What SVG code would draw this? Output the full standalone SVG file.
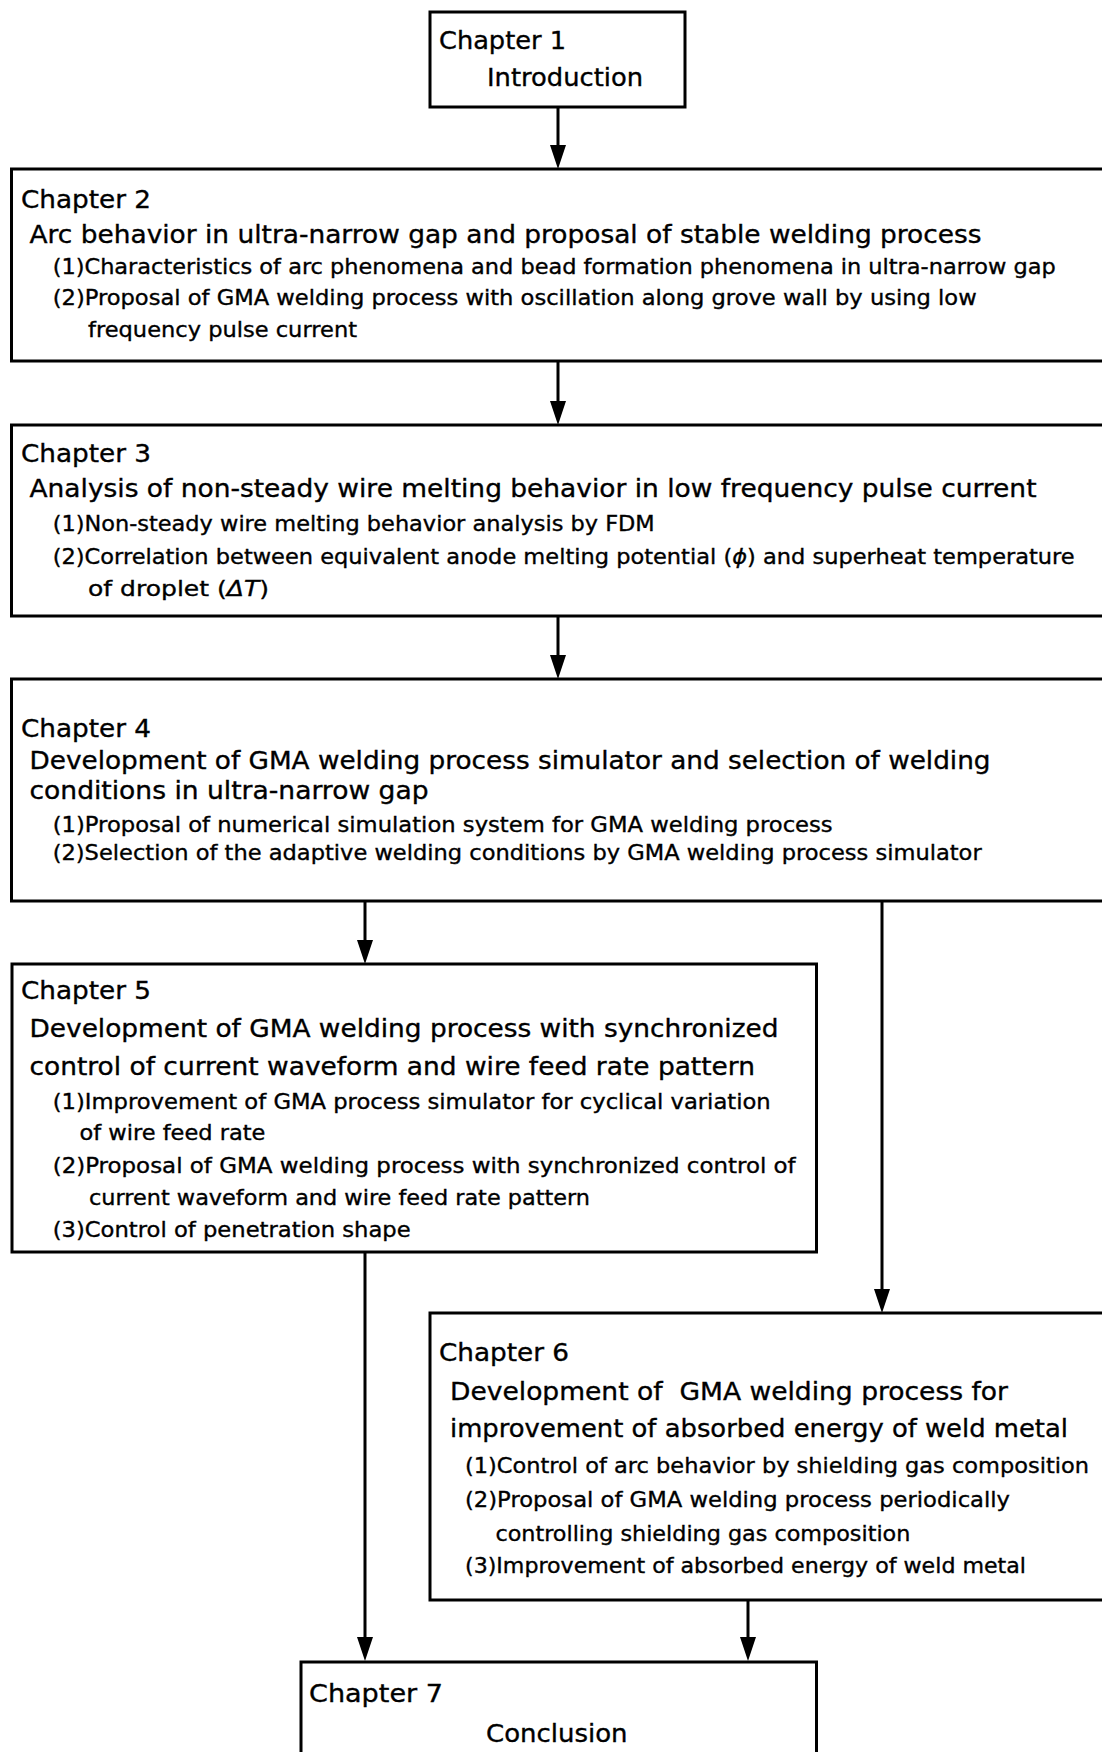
<svg xmlns="http://www.w3.org/2000/svg" width="1102" height="1752" viewBox="0 0 1102 1752">
<style>
.box{fill:#fff;stroke:#000;stroke-width:3}
text{font-family:"DejaVu Sans","Liberation Sans",sans-serif;fill:#000;stroke:#000;stroke-width:0.35}
.ch{font-size:24px}
.tt{font-size:24px}
.it{font-size:21px}
.conn line{stroke:#000;stroke-width:3}
</style>
<defs>
<marker id="arr" markerUnits="userSpaceOnUse" markerWidth="24" markerHeight="16" refX="14" refY="8" orient="auto">
<path d="M0,0 L24,8 L0,16 Z" fill="#000"/>
</marker>
</defs>
<rect width="1102" height="1752" fill="#fff"/>

<g id="connectors" class="conn">
<line x1="558" y1="107" x2="558" y2="159" marker-end="url(#arr)"/>
<line x1="558" y1="361" x2="558" y2="415" marker-end="url(#arr)"/>
<line x1="558" y1="616" x2="558" y2="669" marker-end="url(#arr)"/>
<line x1="365" y1="901" x2="365" y2="954" marker-end="url(#arr)"/>
<line x1="882" y1="901" x2="882" y2="1303" marker-end="url(#arr)"/>
<line x1="365" y1="1252" x2="365" y2="1651" marker-end="url(#arr)"/>
<line x1="748" y1="1600" x2="748" y2="1651" marker-end="url(#arr)"/>
</g>

<g id="ch1">
<rect class="box" x="430" y="12" width="255" height="95"/>
<text class="ch" x="439" y="49" textLength="127" lengthAdjust="spacingAndGlyphs">Chapter 1</text>
<text class="ch" x="487" y="86" textLength="156" lengthAdjust="spacingAndGlyphs">Introduction</text>
</g>

<g id="ch2">
<rect class="box" x="11.5" y="169" width="1110" height="192"/>
<text class="ch" x="21" y="208" textLength="130" lengthAdjust="spacingAndGlyphs">Chapter 2</text>
<text class="tt" x="29.5" y="243" textLength="952" lengthAdjust="spacingAndGlyphs">Arc behavior in ultra-narrow gap and proposal of stable welding process</text>
<text class="it" x="52.7" y="274" textLength="1003" lengthAdjust="spacingAndGlyphs">(1)Characteristics of arc phenomena and bead formation phenomena in ultra-narrow gap</text>
<text class="it" x="52.7" y="305" textLength="924" lengthAdjust="spacingAndGlyphs">(2)Proposal of GMA welding process with oscillation along grove wall by using low</text>
<text class="it" x="88" y="337" textLength="269" lengthAdjust="spacingAndGlyphs">frequency pulse current</text>
</g>

<g id="ch3">
<rect class="box" x="11.5" y="425" width="1110" height="191"/>
<text class="ch" x="21" y="462" textLength="130" lengthAdjust="spacingAndGlyphs">Chapter 3</text>
<text class="tt" x="29.5" y="497" textLength="1007" lengthAdjust="spacingAndGlyphs">Analysis of non-steady wire melting behavior in low frequency pulse current</text>
<text class="it" x="52.7" y="531" textLength="602" lengthAdjust="spacingAndGlyphs">(1)Non-steady wire melting behavior analysis by FDM</text>
<text class="it" x="52.7" y="564" textLength="1022" lengthAdjust="spacingAndGlyphs">(2)Correlation between equivalent anode melting potential (<tspan font-style="italic">ϕ</tspan>) and superheat temperature</text>
<text class="it" x="88" y="596" textLength="181" lengthAdjust="spacingAndGlyphs">of droplet (<tspan font-style="italic">ΔT</tspan>)</text>
</g>

<g id="ch4">
<rect class="box" x="11.5" y="679" width="1110" height="222"/>
<text class="ch" x="21" y="737" textLength="130" lengthAdjust="spacingAndGlyphs">Chapter 4</text>
<text class="tt" x="29.5" y="769" textLength="961" lengthAdjust="spacingAndGlyphs">Development of GMA welding process simulator and selection of welding</text>
<text class="tt" x="29.5" y="799" textLength="399" lengthAdjust="spacingAndGlyphs">conditions in ultra-narrow gap</text>
<text class="it" x="52.7" y="832" textLength="780" lengthAdjust="spacingAndGlyphs">(1)Proposal of numerical simulation system for GMA welding process</text>
<text class="it" x="52.7" y="860" textLength="929" lengthAdjust="spacingAndGlyphs">(2)Selection of the adaptive welding conditions by GMA welding process simulator</text>
</g>

<g id="ch5">
<rect class="box" x="12" y="964" width="804.5" height="288"/>
<text class="ch" x="21" y="999" textLength="130" lengthAdjust="spacingAndGlyphs">Chapter 5</text>
<text class="tt" x="29.5" y="1037" textLength="749" lengthAdjust="spacingAndGlyphs">Development of GMA welding process with synchronized</text>
<text class="tt" x="29.5" y="1075" textLength="725.5" lengthAdjust="spacingAndGlyphs">control of current waveform and wire feed rate pattern</text>
<text class="it" x="52.7" y="1109" textLength="718" lengthAdjust="spacingAndGlyphs">(1)Improvement of GMA process simulator for cyclical variation</text>
<text class="it" x="79.4" y="1140" textLength="186" lengthAdjust="spacingAndGlyphs">of wire feed rate</text>
<text class="it" x="52.7" y="1173" textLength="743" lengthAdjust="spacingAndGlyphs">(2)Proposal of GMA welding process with synchronized control of</text>
<text class="it" x="89" y="1205" textLength="501" lengthAdjust="spacingAndGlyphs">current waveform and wire feed rate pattern</text>
<text class="it" x="52.7" y="1237" textLength="358" lengthAdjust="spacingAndGlyphs">(3)Control of penetration shape</text>
</g>

<g id="ch6">
<rect class="box" x="430" y="1313" width="700" height="287"/>
<text class="ch" x="439" y="1361" textLength="130" lengthAdjust="spacingAndGlyphs">Chapter 6</text>
<text class="tt" x="450" y="1400" textLength="558" lengthAdjust="spacingAndGlyphs" xml:space="preserve">Development of  GMA welding process for</text>
<text class="tt" x="450" y="1437" textLength="618" lengthAdjust="spacingAndGlyphs">improvement of absorbed energy of weld metal</text>
<text class="it" x="465" y="1473" textLength="624" lengthAdjust="spacingAndGlyphs">(1)Control of arc behavior by shielding gas composition</text>
<text class="it" x="465" y="1507" textLength="545" lengthAdjust="spacingAndGlyphs">(2)Proposal of GMA welding process periodically</text>
<text class="it" x="495.4" y="1541" textLength="415" lengthAdjust="spacingAndGlyphs">controlling shielding gas composition</text>
<text class="it" x="465" y="1573" textLength="561" lengthAdjust="spacingAndGlyphs">(3)Improvement of absorbed energy of weld metal</text>
</g>

<g id="ch7">
<rect class="box" x="301" y="1662" width="515.5" height="120"/>
<text class="ch" x="309" y="1702" textLength="134" lengthAdjust="spacingAndGlyphs">Chapter 7</text>
<text class="ch" x="486" y="1742" textLength="141.5" lengthAdjust="spacingAndGlyphs">Conclusion</text>
</g>
</svg>
